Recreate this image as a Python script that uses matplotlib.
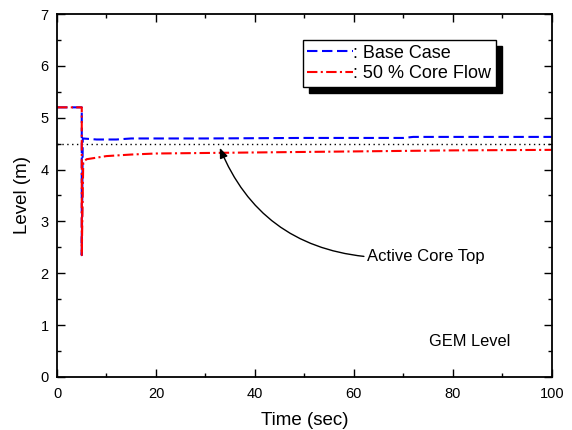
import matplotlib
matplotlib.use("Agg")
import matplotlib.pyplot as plt
from matplotlib.lines import Line2D
from matplotlib.ticker import MultipleLocator

plt.rcParams['font.family'] = ['Liberation Sans', 'DejaVu Sans']

# GEM level transient: base case vs. 50 % core flow
time_base = [0, 5, 5, 5.2, 8, 12, 15, 30, 50, 70, 72, 100]
level_base = [5.2, 5.2, 2.35, 4.60, 4.58, 4.58, 4.60, 4.60, 4.61, 4.61, 4.63, 4.63]

time_flow50 = [0, 5, 5, 5.3, 6, 8, 10, 15, 20, 30, 40, 50, 60, 70, 80, 100]
level_flow50 = [5.2, 5.2, 2.35, 4.15, 4.20, 4.23, 4.26, 4.29, 4.31, 4.32, 4.33,
                4.34, 4.35, 4.36, 4.37, 4.38]

active_core_top = 4.5
series_labels = [': Base Case', ': 50 % Core Flow']

fig = plt.figure(figsize=(5.72, 4.30), dpi=100)
ax = fig.add_axes([0.0997, 0.1233, 0.8648, 0.8441])

base_style = dict(color='blue', lw=1.5, dashes=(5, 2.2))
flow_style = dict(color='red', lw=1.5, dashes=(5, 1.6, 1, 1.6))

ax.plot(time_base, level_base, **base_style)
ax.plot(time_flow50, level_flow50, **flow_style)
ax.axhline(active_core_top, color='black', lw=1.0, dashes=(1, 2.5), zorder=1)

ax.annotate('Active Core Top', xy=(32.9, 4.42), xytext=(62.6, 2.32),
            fontsize=12, ha='left', va='center',
            arrowprops=dict(arrowstyle='-|>,head_length=0.5,head_width=0.2',
                            connectionstyle='arc3,rad=-0.3', color='black',
                            lw=1.0, relpos=(0, 0.5), shrinkA=0, shrinkB=0))

ax.text(75.2, 0.69, 'GEM Level', fontsize=11.8, ha='left', va='center')

ax.set_xlim(0, 100)
ax.set_ylim(0, 7)
ax.xaxis.set_major_locator(MultipleLocator(20))
ax.xaxis.set_minor_locator(MultipleLocator(10))
ax.yaxis.set_major_locator(MultipleLocator(1))
ax.yaxis.set_minor_locator(MultipleLocator(0.5))
ax.tick_params(which='both', direction='in', top=True, right=True,
               labelsize=10.5, width=1.0)
ax.tick_params(which='major', length=6)
ax.tick_params(which='minor', length=3)
ax.tick_params(axis='x', pad=7)
ax.tick_params(axis='y', pad=6)
for sp in ax.spines.values():
    sp.set_linewidth(1.3)

ax.set_xlabel('Time (sec)', fontsize=13.5, labelpad=8)
ax.set_ylabel('Level (m)', fontsize=13.5, labelpad=7)

handles = [Line2D([], [], **base_style), Line2D([], [], **flow_style)]
leg = ax.legend(handles, series_labels, loc='upper left',
                bbox_to_anchor=(0.497, 0.928), borderaxespad=0,
                fontsize=13, handlelength=2.5, handletextpad=0.05,
                borderpad=0.25, labelspacing=0.2, fancybox=False,
                framealpha=1, edgecolor='black',
                shadow=dict(ox=4.3, oy=-4.3, facecolor='black',
                            edgecolor='black', alpha=1))
leg.get_frame().set_linewidth(1.0)

fig.savefig('out.png', dpi=100)
